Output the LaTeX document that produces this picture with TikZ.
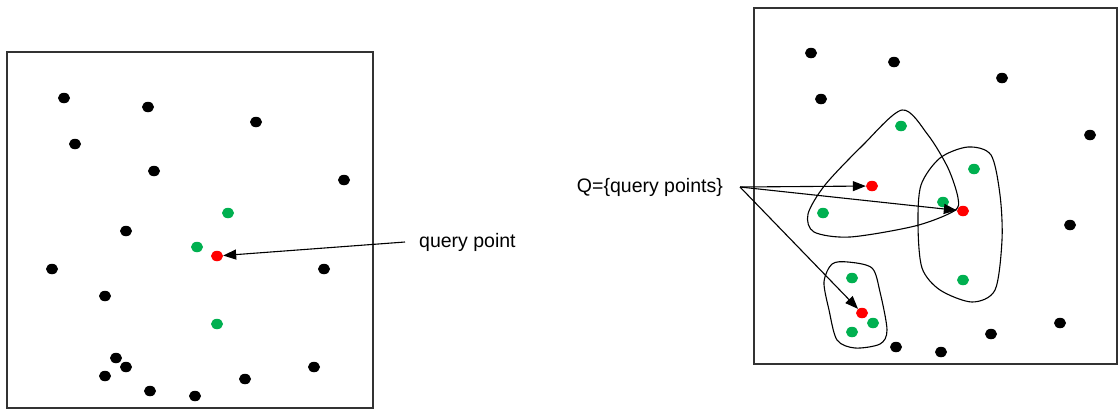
\documentclass[tikz,border=0pt]{standalone}
\usepackage{fontspec}
\setmainfont{Liberation Sans}
\usetikzlibrary{shapes.geometric,arrows.meta}
\definecolor{ptgreen}{RGB}{0,176,80}
\tikzset{
	dot/.style={ellipse,inner sep=0pt,minimum width=12pt,minimum height=10.5pt,fill=black},
	rdot/.style={dot,fill=red},
	gdot/.style={dot,fill=ptgreen},
	frame/.style={draw=black!80,line width=1.2pt},
	blob/.style={draw,line width=1.1pt},
	lbl/.style={inner sep=0pt,font=\fontsize{19.5}{22}\selectfont},
	ptr/.style={-{Triangle[length=13pt,width=10pt]},line width=1.1pt}
}
\begin{document}
\begin{tikzpicture}[x=1pt,y=-1pt]
	\useasboundingbox (0,0) rectangle (1118,410);
	% left picture
	\draw [frame] (7,52) rectangle (373,408);
	\node [dot] (a1) at (64,98) {};
	\node [dot] (a2) at (148,107) {};
	\node [dot] (a3) at (256,122) {};
	\node [dot] (a4) at (75,144) {};
	\node [dot] (a5) at (154,171) {};
	\node [dot] (a6) at (344,180) {};
	\node [dot] (a7) at (126,231) {};
	\node [dot] (a8) at (52,269) {};
	\node [dot] (a9) at (324,269) {};
	\node [dot] (a10) at (105,296) {};
	\node [dot] (a11) at (116,358) {};
	\node [dot] (a12) at (126,367) {};
	\node [dot] (a13) at (105,376) {};
	\node [dot] (a14) at (150,391) {};
	\node [dot] (a15) at (195,396) {};
	\node [dot] (a16) at (245,379) {};
	\node [dot] (a17) at (314,367) {};
	\node [gdot] (ag1) at (228,213) {};
	\node [gdot] (ag2) at (197,247) {};
	\node [gdot] (ag3) at (217,324) {};
	\node [rdot] (ar) at (217,256) {};
	
	\node [lbl,anchor=west] (qp) at (419,242) {query point};
	\draw [ptr] ([xshift=-14pt]qp.west) -- (ar);
	
	% right picture
	\draw [frame] (754,8) rectangle (1117,364);
	\node [dot] (b1) at (811,53) {};
	\node [dot] (b2) at (894,62) {};
	\node [dot] (b3) at (1002,78) {};
	\node [dot] (b4) at (821,99) {};
	\node [dot] (b5) at (1090,135) {};
	\node [dot] (b6) at (1070,225) {};
	\node [dot] (b7) at (1060,323) {};
	\node [dot] (b8) at (991,334) {};
	\node [dot] (b9) at (896,347) {};
	\node [dot] (b10) at (941,352) {};
	\node [gdot] (bg1) at (901,126) {};
	\node [gdot] (bg2) at (974,169) {};
	\node [gdot] (bg3) at (943,202) {};
	\node [gdot] (bg4) at (823,213) {};
	\node [gdot] (bg5) at (963,280) {};
	\node [gdot] (bg6) at (852,278) {};
	\node [gdot] (bg7) at (873,323) {};
	\node [gdot] (bg8) at (852,332) {};
	\node [rdot] (br1) at (872,186) {};
	\node [rdot] (br2) at (963,211) {};
	\node [rdot] (br3) at (862,313) {};
	
	\draw [blob] plot [smooth cycle] coordinates {(902,110) (928,135) (948,168) (958,198) (954,211) (915,226) (850,237) (814,232) (808,214) (825,185) (862,146)};
	\draw [blob] plot [smooth cycle] coordinates {(968,147) (991,155) (1000,195) (1002,240) (995,290) (972,302) (940,290) (922,268) (918,225) (921,185) (940,158)};
	\draw [blob] plot [smooth cycle] coordinates {(848,262) (872,268) (880,292) (887,330) (880,344) (855,348) (837,340) (829,310) (824,282) (832,264)};
	
	\node [lbl,anchor=east] (q) at (723,187) {Q=\{query points\}};
	\coordinate (qs) at (740,187);
	\draw [ptr] (qs) -- (br1);
	\draw [ptr] (qs) -- (br2);
	\draw [ptr] (qs) -- (br3);
\end{tikzpicture}
\end{document}
